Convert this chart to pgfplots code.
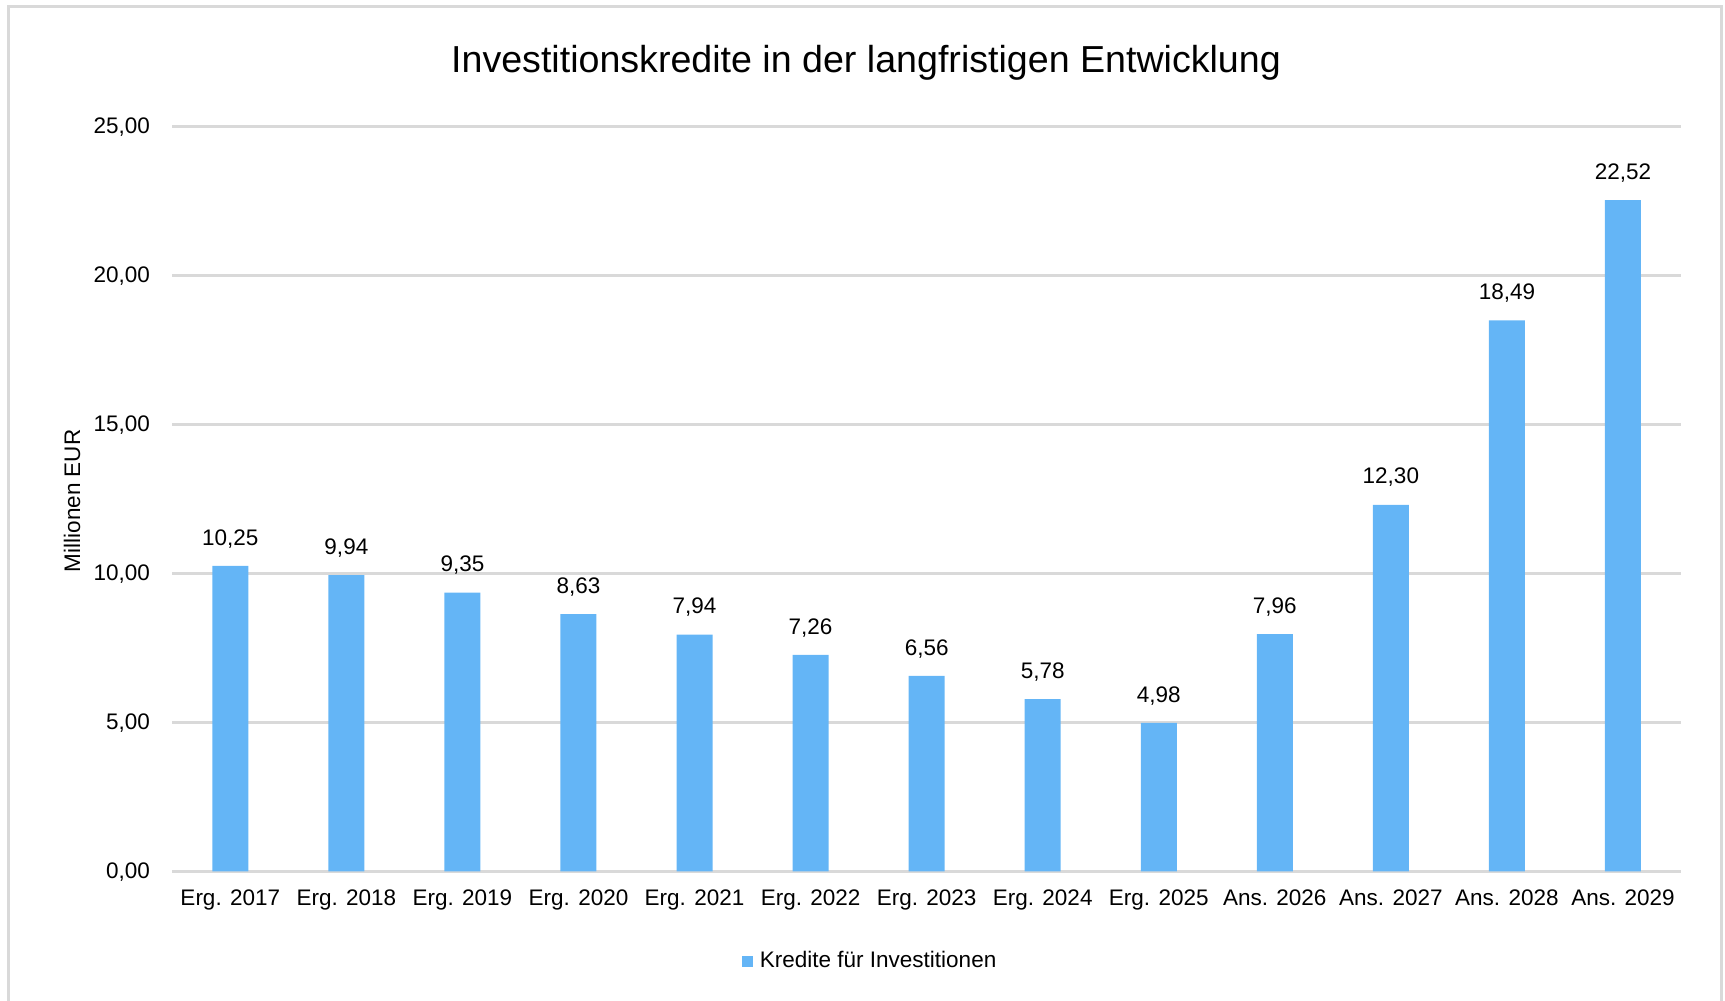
\documentclass[border=0pt]{standalone}
\usepackage{fontspec}
\setmainfont{Liberation Sans}
\usepackage{pgfplots}
\pgfplotsset{compat=1.18}
\definecolor{barblue}{HTML}{64B5F6}
\definecolor{gridgray}{HTML}{D9D9D9}
\newcommand\lab{\fontsize{11.25pt}{13.5pt}\selectfont}

\begin{document}
\begin{tikzpicture}
  % page = 1725 x 1001 px at 0.5pt per px
  \path[use as bounding box] (0,0) rectangle (862.5pt,500.5pt);
  % chart frame (bottom edge lies off the page)
  \draw[gridgray, line width=1.5pt] (4.25pt,-5pt) -- (4.25pt,497pt) -- (860.75pt,497pt) -- (860.75pt,-5pt);
  \node[anchor=base, font=\fontsize{18.8pt}{22pt}\selectfont] at (433pt,464.15pt)
    {Investitionskredite in der langfristigen Entwicklung};
  \node[rotate=90, anchor=base, font=\lab] at (40pt,250.1pt) {Millionen EUR};

  \begin{axis}[
      at={(86.15pt,64.85pt)}, anchor=south west,
      scale only axis, width=754.35pt, height=372.5pt,
      ybar, bar width=18pt,
      xmin=-0.5, xmax=12.5, ymin=0, ymax=25,
      xtick=data,
      xticklabels={Erg. 2017, Erg. 2018, Erg. 2019, Erg. 2020, Erg. 2021, Erg. 2022,
                   Erg. 2023, Erg. 2024, Erg. 2025, Ans. 2026, Ans. 2027, Ans. 2028, Ans. 2029},
      ytick={0,5,10,15,20,25},
      ymajorgrids,
      major grid style={gridgray, line width=1.4pt},
      axis line style={draw=none},
      major tick length=0pt,
      tick label style={font=\lab},
      xticklabel style={anchor=base, inner sep=0pt, yshift=-17.35pt},
      yticklabel style={anchor=base east, inner sep=0pt, xshift=-11pt, yshift=-3.6pt},
      /pgf/number format/fixed,
      /pgf/number format/fixed zerofill,
      /pgf/number format/precision=2,
      /pgf/number format/use comma,
      /pgf/number format/1000 sep={},
      /pgf/number format/assume math mode=true,
      nodes near coords,
      every node near coord/.append style={font=\lab, anchor=base, inner sep=0pt, yshift=10.4pt},
      legend style={at={(0.4632,-0.1208)}, anchor=center, draw=none, fill=none,
                    font=\lab, inner sep=0pt, column sep=1.5pt},
      clip=false,
    ]
    \addplot[fill=barblue, draw=none,
      legend image code/.code={\fill[barblue] (0pt,-2.75pt) rectangle (5.5pt,2.75pt);}]
      coordinates {(0,10.25) (1,9.94) (2,9.35) (3,8.63) (4,7.94) (5,7.26) (6,6.56)
                   (7,5.78) (8,4.98) (9,7.96) (10,12.30) (11,18.49) (12,22.52)};
    \addlegendentry{Kredite für Investitionen}
  \end{axis}
\end{tikzpicture}
\end{document}
